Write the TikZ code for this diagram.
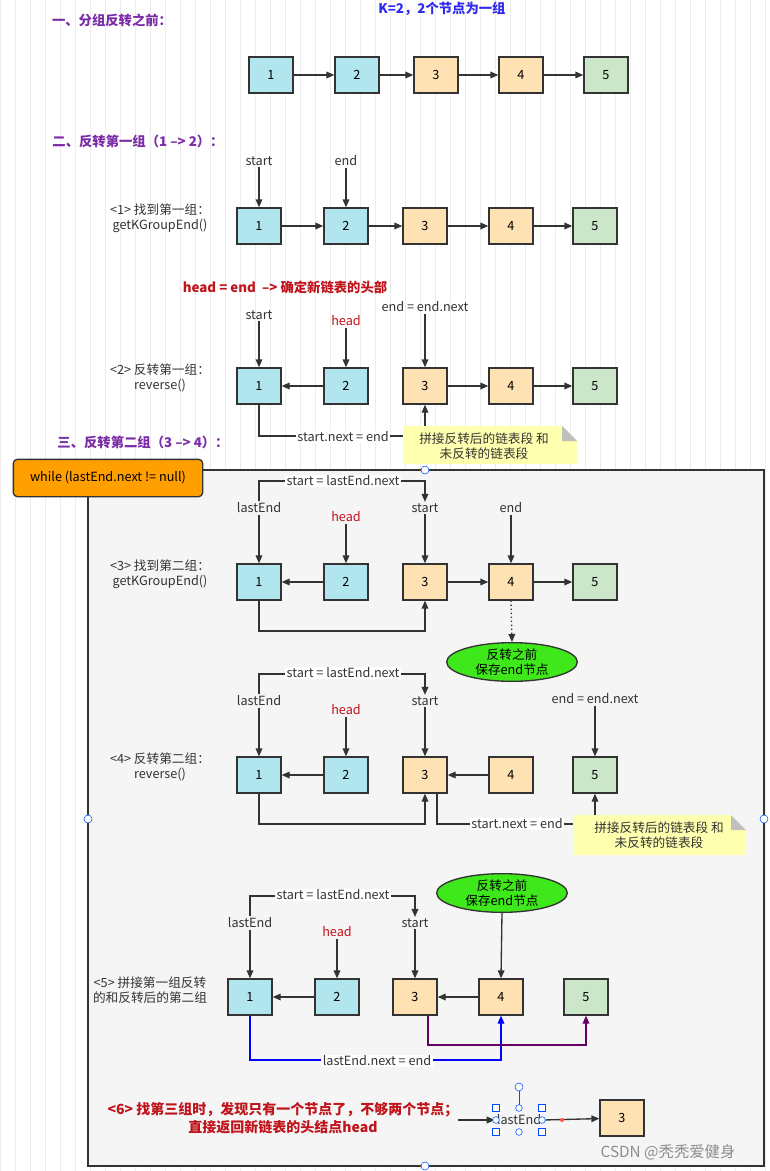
\documentclass[tikz,border=0pt]{standalone}
\usepackage{fontspec}
\setmainfont{Noto Sans CJK SC}
\usetikzlibrary{arrows.meta,shapes.geometric}
\definecolor{cb}{HTML}{B1E6EE}
\definecolor{co}{HTML}{FFE2B4}
\definecolor{cg}{HTML}{CBE6C9}
\definecolor{pur}{HTML}{7B2CA8}
\definecolor{dred}{HTML}{C0131B}
\definecolor{ttl}{HTML}{2E2AF0}
\definecolor{note}{HTML}{FFFFB0}
\definecolor{grn}{HTML}{3EE81A}
\begin{document}
\begin{tikzpicture}[x=0.75pt,y=-0.75pt,font=\fontsize{9.5}{11.5}\selectfont,
 box/.style={draw=black!80,line width=1pt,minimum width=33pt,minimum height=27pt,inner sep=0pt},
 b/.style={box,fill=cb},o/.style={box,fill=co},g/.style={box,fill=cg},
 ar/.style={draw=black!80,line width=1pt,-{Triangle[length=6pt,width=5pt]}},
 ln/.style={draw=black!80,line width=1pt},
 lab/.style={text=black!80,align=center,inner sep=1pt},
 hd/.style={text=dred,inner sep=1pt},
 sec/.style={text=pur,font=\fontsize{10}{12}\selectfont\bfseries},
 ell/.style={ellipse,draw=black!80,line width=1pt,fill=grn,minimum width=98pt,minimum height=29pt,align=center,inner sep=0pt},
 wl/.style={fill=white,inner sep=1pt,text=black!80},
 hnd/.style={circle,draw=blue!70!cyan,fill=white,inner sep=0pt,minimum size=6pt}]
\useasboundingbox (0,0) rectangle (770,1171);
\fill[white] (0,0) rectangle (770,1171);
\draw[black!7,step=15] (0,0) grid (770,1171);
\draw[black!80,line width=1.5pt,fill=black!4] (88,470) rectangle (764,1166);
\node[draw=black!80,line width=1pt,fill=orange!75!yellow,rounded corners=3pt,minimum width=142pt,minimum height=28pt] (wh) at (108,478) {while (lastEnd.next != null)};
\foreach \p/\n in {{(425,470)}/h1,{(88,819)}/h2,{(764,819)}/h3,{(425,1166)}/h4} \node[hnd] (\n) at \p {};
% titles
\node[sec] (t1) at (112,20) {一、分组反转之前：};
\node[text=ttl,font=\fontsize{10}{12}\selectfont\bfseries] (t0) at (442,9) {K=2，2个节点为一组};
\node[sec] (t2) at (138,141) {二、反转第一组（1 –> 2）：};
\node[sec] (t3) at (143,442) {三、反转第二组（3 –> 4）：};
% row1
\node[b] (a1) at (271,75) {1};\node[b] (a2) at (357,75) {2};\node[o] (a3) at (436,75) {3};\node[o] (a4) at (521,75) {4};\node[g] (a5) at (606,75) {5};
\foreach \i/\j in {a1/a2,a2/a3,a3/a4,a4/a5} \draw[ar] (\i) -- (\j);
% row2
\node[lab] (l1) at (160,218) {<1> 找到第一组：\\getKGroupEnd()};
\node[b] (b1) at (259,226) {1};\node[b] (b2) at (346,226) {2};\node[o] (b3) at (425,226) {3};\node[o] (b4) at (511,226) {4};\node[g] (b5) at (595,226) {5};
\foreach \i/\j in {b1/b2,b2/b3,b3/b4,b4/b5} \draw[ar] (\i) -- (\j);
\node[lab] (bs) at (259,161) {start};\node[lab] (be) at (346,161) {end};
\draw[ar] (bs) -- (b1);\draw[ar] (be) -- (b2);
% row3
\node[hd,font=\fontsize{10}{12}\selectfont\bfseries] (hh) at (285,287) {head = end \ --> 确定新链表的头部};
\node[lab] (l2) at (160,378) {<2> 反转第一组：\\reverse()};
\node[b] (c1) at (259,386) {1};\node[b] (c2) at (346,386) {2};\node[o] (c3) at (425,386) {3};\node[o] (c4) at (511,386) {4};\node[g] (c5) at (595,386) {5};
\draw[ar] (c2) -- (c1);\draw[ar] (c3) -- (c4);\draw[ar] (c4) -- (c5);
\node[lab] (cs) at (259,315) {start};\node[hd] (ch) at (346,321) {head};\node[lab] (ce) at (425,307) {end = end.next};
\draw[ar] (cs) -- (c1);\draw[ar] (ch) -- (c2);\draw[ar] (ce) -- (c3);
\draw[ar] (c1.south) |- (425,436) -- (c3.south);
\node[wl] (cl) at (343,437) {start.next = end};
\draw[fill=note,draw=none] (403,426) -- (562,426) -- (577,441) -- (577,464) -- (403,464) -- cycle;
\fill[black!25] (562,426) -- (562,441) -- (577,441) -- cycle;
\node[lab] (n1) at (484,446) {拼接反转后的链表段 和\\未反转的链表段};
% row4
\node[lab] (l3) at (160,574) {<3> 找到第二组：\\getKGroupEnd()};
\node[b] (d1) at (259,582) {1};\node[b] (d2) at (346,582) {2};\node[o] (d3) at (425,582) {3};\node[o] (d4) at (511,582) {4};\node[g] (d5) at (595,582) {5};
\draw[ar] (d2) -- (d1);\draw[ar] (d3) -- (d4);\draw[ar] (d4) -- (d5);
\node[lab] (dl) at (259,508) {lastEnd};\node[hd] (dh) at (346,517) {head};\node[lab] (ds) at (425,508) {start};\node[lab] (de) at (511,508) {end};
\draw[ar] (dl) -- (d1);\draw[ar] (dh) -- (d2);\draw[ar] (ds) -- (d3);\draw[ar] (de) -- (d4);
\draw[ar] (dl.north) |- (425,481) -- (ds.north);
\node[wl] (dt) at (343,481) {start = lastEnd.next};
\draw[ar] (d1.south) |- (425,631) -- (d3.south);
\node[ell] (e1) at (512,662) {反转之前\\保存end节点};
\draw[ar,dotted] (d4.south) -- (e1.north);
% row5
\node[lab] (l4) at (160,767) {<4> 反转第二组：\\reverse()};
\node[b] (f1) at (259,775) {1};\node[b] (f2) at (346,775) {2};\node[o] (f3) at (425,775) {3};\node[o] (f4) at (511,775) {4};\node[g] (f5) at (595,775) {5};
\draw[ar] (f2) -- (f1);\draw[ar] (f4) -- (f3);
\node[lab] (fl) at (259,701) {lastEnd};\node[hd] (fh) at (346,710) {head};\node[lab] (fs) at (425,701) {start};\node[lab] (fe) at (595,699) {end = end.next};
\draw[ar] (fl) -- (f1);\draw[ar] (fh) -- (f2);\draw[ar] (fs) -- (f3);\draw[ar] (fe) -- (f5);
\draw[ar] (fl.north) |- (425,674) -- (fs.north);
\node[wl] (ft) at (343,673) {start = lastEnd.next};
\draw[ar] (f1.south) |- (425,824) -- (f3.south);
\draw[ar] (437,793) |- (595,824) -- (f5.south);
\node[wl] (fn) at (517,824) {start.next = end};
\draw[fill=note,draw=none] (573,815) -- (731,815) -- (746,830) -- (746,855) -- (573,855) -- cycle;
\fill[black!25] (731,815) -- (731,830) -- (746,830) -- cycle;
\node[lab] (n2) at (659,835) {拼接反转后的链表段 和\\未反转的链表段};
% row6
\node[lab] (l5) at (150,990) {<5> 拼接第一组反转\\的和反转后的第二组};
\node[b] (g1) at (250,997) {1};\node[b] (g2) at (337,997) {2};\node[o] (g3) at (415,997) {3};\node[o] (g4) at (501,997) {4};\node[g] (g5) at (586,997) {5};
\draw[ar] (g2) -- (g1);\draw[ar] (g4) -- (g3);
\node[lab] (gl) at (250,923) {lastEnd};\node[hd] (gh) at (337,932) {head};\node[lab] (gs) at (415,923) {start};
\draw[ar] (gl) -- (g1);\draw[ar] (gh) -- (g2);\draw[ar] (gs) -- (g3);
\draw[ar] (gl.north) |- (415,896) -- (gs.north);
\node[wl] (gt) at (333,895) {start = lastEnd.next};
\node[ell] (e2) at (502,893) {反转之前\\保存end节点};
\draw[ar] (e2.south) -- (g4.north);
\draw[ar,draw=blue] (g1.south) |- (501,1060) -- (g4.south);
\node[wl] (gn) at (377,1061) {lastEnd.next = end};
\draw[ar,draw=violet!80!black] (428,1016) |- (586,1045) -- (g5.south);
% row7
\node[text=dred,font=\fontsize{10.5}{13}\selectfont\bfseries,align=center] (l6) at (283,1118) {<6> 找第三组时，发现只有一个节点了，不够两个节点；\\直接返回新链表的头结点head};
\coordinate (s7) at (458,1120);
\node[lab,minimum width=36pt,minimum height=14pt] (le) at (519,1120) {lastEnd};
\node[o] (k3) at (622,1118) {3};
\draw[ar] (s7) -- (le.west);
\draw[ar] (le.east) -- (k3);
\fill[red!70] (562,1120) circle (2);
\draw[blue!70!cyan] (le.north) -- (519,1087);
\node[hnd] (q0) at (519,1087) {};
\foreach \p in {(496,1108),(542,1108),(496,1132),(542,1132)} \node[draw=blue!70!cyan,fill=white,minimum size=5pt,inner sep=0pt] at \p {};
\foreach \p in {(519,1108),(519,1132),(496,1120),(542,1120)} \node[hnd,minimum size=5pt] at \p {};
\node[text=black!45,font=\fontsize{11.5}{13}\selectfont] (wm) at (668,1152) {CSDN @秃秃爱健身};
\end{tikzpicture}
\end{document}
